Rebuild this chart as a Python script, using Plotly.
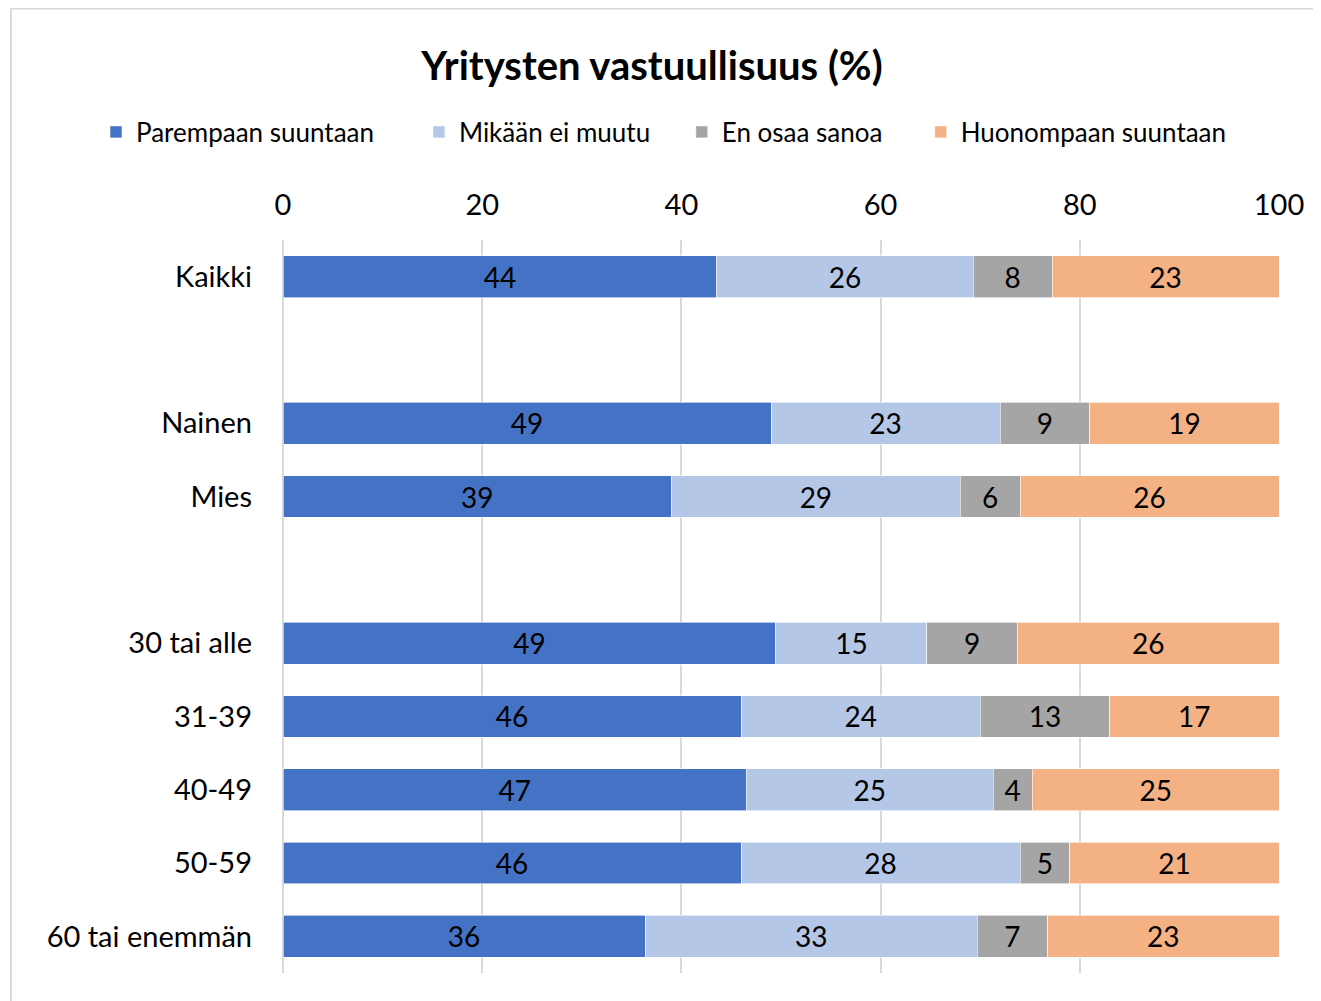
import plotly.graph_objects as go

categories = ["Kaikki", " ", "Nainen", "Mies", "  ", "30 tai alle", "31-39", "40-49", "50-59", "60 tai enemmän"]
series_names = ["Parempaan suuntaan", "Mikään ei muutu", "En osaa sanoa", "Huonompaan suuntaan"]
parempaan = [44, None, 49, 39, None, 49, 46, 47, 46, 36]
mikaan = [26, None, 23, 29, None, 15, 24, 25, 28, 33]
en_osaa = [8, None, 9, 6, None, 9, 13, 4, 5, 7]
huonompaan = [23, None, 19, 26, None, 26, 17, 25, 21, 23]
colors = ["#4472C4", "#B4C7E7", "#A5A5A5", "#F4B183"]
x_ticks = [0, 20, 40, 60, 80, 100]

FONT = "Lato"
W, H = 1321, 1001
OFF = 8  # page body margin
ML, MR, MT, MB = 283 - OFF, 1321 - 1279 + OFF, 240 - OFF, 1001 - 973 + OFF
legend_pad = [6, 4, 5, 0]  # trailing non-breaking spaces to mimic the wider legend spacing

fig = go.Figure()
for name, vals, col, pad in zip(series_names, [parempaan, mikaan, en_osaa, huonompaan], colors, legend_pad):
    fig.add_trace(go.Bar(
        name=name + "\u00a0" * pad, y=categories, x=vals, orientation="h",
        marker=dict(color=col, line=dict(color="white", width=0.6)),
        text=[("" if v is None else str(v)) for v in vals],
        textposition="inside", insidetextanchor="middle", textangle=0,
        textfont=dict(family=FONT, size=28, color="black"),
        hovertemplate=name + ": %{x}<extra></extra>",
    ))

pw = W - ML - MR
ph = H - MT - MB
fig.add_shape(type="rect", xref="paper", yref="paper",
              x0=(11 - OFF - ML) / pw, x1=(W + 20 - ML) / pw,
              y0=-(H + 20 - (H - MB)) / ph, y1=1 + (MT - 0.5) / ph,
              line=dict(color="#D9D9D9", width=2), fillcolor="rgba(0,0,0,0)", layer="below")

fig.update_layout(
    width=W, height=H,
    barmode="stack", barnorm="percent", bargap=0.43,
    margin=dict(l=ML, r=MR, t=MT, b=MB),
    paper_bgcolor="white", plot_bgcolor="white",
    font=dict(family=FONT, color="black"),
    title=dict(text="<b>Yritysten vastuullisuus (%)</b>", x=(652 - OFF) / W, xanchor="center",
               y=1 - (66 - OFF) / H, yanchor="middle", yref="container",
               font=dict(family=FONT, size=40, color="black")),
    legend=dict(orientation="h", x=(96 - OFF - ML) / pw, xanchor="left",
                y=1 + (MT - (132 - OFF)) / ph, yanchor="middle",
                font=dict(family=FONT, size=26, color="black"),
                traceorder="normal", itemwidth=30),
    xaxis=dict(side="top", range=[0, 100], tickvals=x_ticks, ticktext=[str(t) for t in x_ticks],
               showgrid=True, gridcolor="#D9D9D9", gridwidth=2,
               zeroline=True, zerolinecolor="#D9D9D9", zerolinewidth=2,
               showline=False, ticks="", ticklabelstandoff=18,
               tickfont=dict(family=FONT, size=29, color="black"), fixedrange=True),
    yaxis=dict(categoryorder="array", categoryarray=categories, autorange="reversed",
               showgrid=False, zeroline=False, showline=False, ticks="",
               ticklabelstandoff=30,
               tickfont=dict(family=FONT, size=29, color="black")),
)

fig.write_html("out.html")
